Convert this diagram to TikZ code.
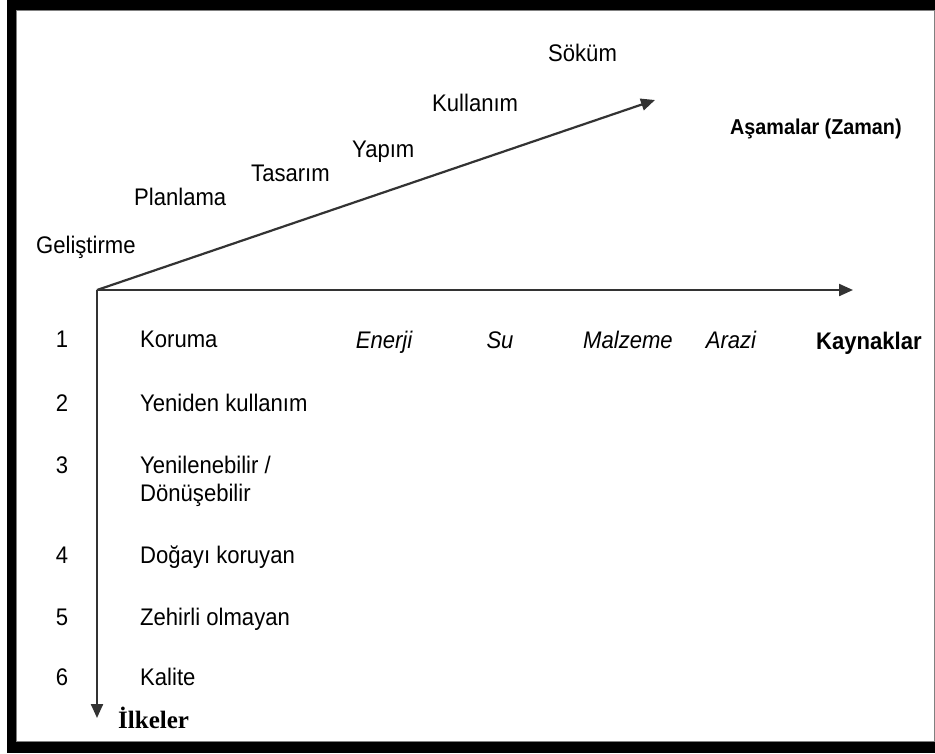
\documentclass[tikz,border=0pt]{standalone}
\usepackage{fontspec}
\setmainfont{Liberation Sans}[FakeStretch=0.92]
\newfontfamily\timesfont{Liberation Serif}
\usetikzlibrary{arrows.meta}
\begin{document}
\begin{tikzpicture}[x=1pt,y=-1pt,
  lbl/.style={inner sep=0pt,anchor=base west,font=\fontsize{24}{28}\selectfont},
  num/.style={inner sep=0pt,anchor=base,font=\fontsize{24}{28}\selectfont},
  itl/.style={inner sep=0pt,anchor=base,font=\fontsize{24}{28}\selectfont\itshape},
  axis/.style={line width=2.2pt,draw=black!80,-{Triangle[length=14pt,width=12pt]}}]
\useasboundingbox (0,0) rectangle (935,753);
\fill[white] (0,0) rectangle (935,753);
\fill[black] (7,0) rectangle (935,753);
\filldraw[fill=white,draw=black!50,line width=1pt] (16,10) rectangle (934.5,741);
% axes
\coordinate (o) at (97,290);
\coordinate (d) at (655,100);
\coordinate (h) at (853,290);
\coordinate (v) at (97,718);
\draw[axis] (o) -- (d);
\draw[axis] (o) -- (h);
\draw[axis] (o) -- (v);
% stages
\node[lbl] (sokum) at (548,61) {Söküm};
\node[lbl] (kull) at (432,111) {Kullanım};
\node[lbl] (yapim) at (352,157) {Yapım};
\node[lbl] (tas) at (251,181) {Tasarım};
\node[lbl] (plan) at (134,205) {Planlama};
\node[lbl] (gel) at (36,253) {Geliştirme};
\node[lbl,font=\fontsize{21.5}{24}\selectfont\bfseries] (asama) at (730,134) {Aşamalar (Zaman)};
% resources
\node[itl] (enerji) at (384,348) {Enerji};
\node[itl] (su) at (500,348) {Su};
\node[itl] (malz) at (628,348) {Malzeme};
\node[itl] (arazi) at (731,348) {Arazi};
\node[lbl,font=\fontsize{24}{28}\selectfont\bfseries] (kayn) at (816,349) {Kaynaklar};
% principles
\node[num] (n1) at (62,347) {1};
\node[num] (n2) at (62,411) {2};
\node[num] (n3) at (62,473) {3};
\node[num] (n4) at (62,563) {4};
\node[num] (n5) at (62,625) {5};
\node[num] (n6) at (62,685) {6};
\node[lbl] (p1) at (140,347) {Koruma};
\node[lbl] (p2) at (140,411) {Yeniden kullanım};
\node[lbl] (p3) at (140,473) {Yenilenebilir /};
\node[lbl] (p3b) at (140,501) {Dönüşebilir};
\node[lbl] (p4) at (140,563) {Doğayı koruyan};
\node[lbl] (p5) at (140,625) {Zehirli olmayan};
\node[lbl] (p6) at (140,685) {Kalite};
\node[lbl,font=\fontsize{25}{28}\selectfont\timesfont\bfseries] (ilk) at (118,728) {İlkeler};
\end{tikzpicture}
\end{document}
